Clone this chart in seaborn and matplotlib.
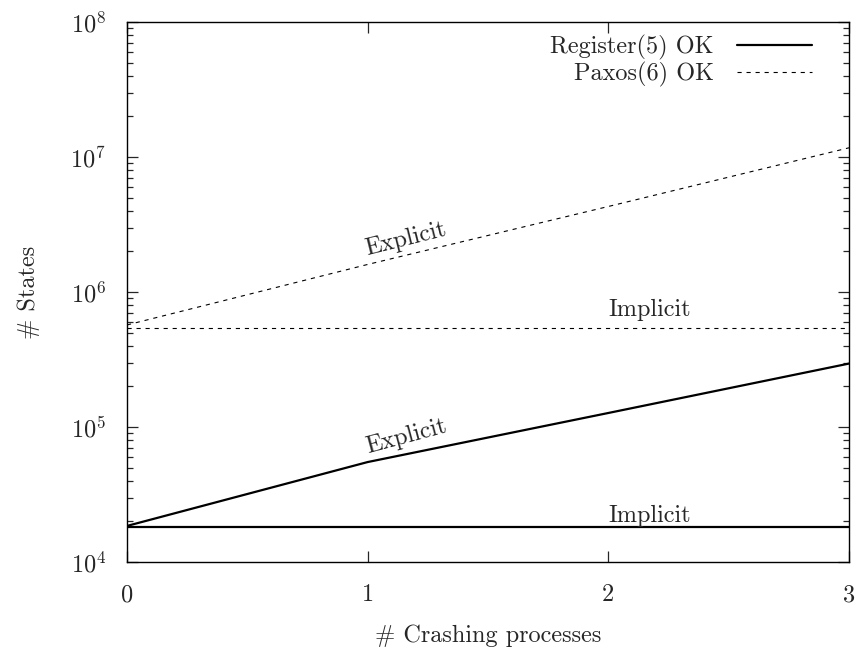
import numpy as np
import pandas as pd
import matplotlib
matplotlib.use("Agg")
import matplotlib.pyplot as plt
from matplotlib.lines import Line2D
import seaborn as sns

# ---- data ----
crashing = [0, 1, 2, 3]
register_explicit = [1.85e4, 5.5e4, 1.27e5, 2.95e5]
register_implicit = [1.82e4, 1.82e4, 1.82e4, 1.82e4]
paxos_explicit = [5.7e5, 1.6e6, 4.3e6, 1.17e7]
paxos_implicit = [5.4e5, 5.4e5, 5.4e5, 5.4e5]
legend_labels = ["Register(5) OK", "Paxos(6) OK"]
x_ticks = [0, 1, 2, 3]

sns.set_style("ticks")
plt.rcParams["font.family"] = ["cmr10", "DejaVu Serif"]
plt.rcParams["mathtext.fontset"] = "cm"
plt.rcParams["axes.formatter.use_mathtext"] = True
plt.rcParams["axes.unicode_minus"] = False
plt.rcParams["lines.scale_dashes"] = False

fig = plt.figure(figsize=(8.61, 6.53), dpi=100)
ax = fig.add_axes([127/861, 1-562/653, (849-127)/861, (562-22)/653])

df = pd.DataFrame({"x": crashing,
                   "re": register_explicit, "ri": register_implicit,
                   "pe": paxos_explicit, "pi": paxos_implicit})

solid_kw = dict(color="black", lw=1.6)
dash_kw = dict(color="black", lw=0.8, linestyle=(0, (3, 3.5)))
sns.lineplot(data=df, x="x", y="re", ax=ax, **solid_kw)
sns.lineplot(data=df, x="x", y="ri", ax=ax, **solid_kw)
sns.lineplot(data=df, x="x", y="pe", ax=ax, **dash_kw)
sns.lineplot(data=df, x="x", y="pi", ax=ax, **dash_kw)

ax.set_yscale("log")
ax.set_xlim(0, 3)
ax.set_ylim(1e4, 1e8)
ax.set_xticks(x_ticks)
ax.set_xticklabels([str(v) for v in x_ticks])

fs = 17.5
ax.tick_params(axis="both", which="major", direction="in", length=8, width=0.9,
               top=True, right=True, labelsize=fs)
ax.tick_params(axis="y", which="minor", direction="in", length=4, width=0.9,
               left=True, right=True)
ax.tick_params(axis="y", which="major", pad=15)
ax.tick_params(axis="x", which="major", pad=16)
for s in ax.spines.values():
    s.set_linewidth(1.0)
    s.set_color("black")

ax.set_xlabel("# Crashing processes", fontsize=fs, labelpad=13)
ax.set_ylabel("# States", fontsize=fs, labelpad=22)

ax.text(1.16, 8.5e4, "Explicit", fontsize=fs, rotation=15, ha="center", va="center")
ax.text(1.16, 2.45e6, "Explicit", fontsize=fs, rotation=14, ha="center", va="center")
ax.text(2.17, 7.4e5, "Implicit", fontsize=fs, ha="center", va="center")
ax.text(2.17, 2.2e4, "Implicit", fontsize=fs, ha="center", va="center")

handles = [Line2D([], [], **solid_kw), Line2D([], [], **dash_kw)]
ax.legend(handles, legend_labels, loc="upper right", frameon=False, markerfirst=False,
          fontsize=fs, handlelength=3.1, handletextpad=0.95, labelspacing=0.08,
          borderaxespad=0, borderpad=0, bbox_to_anchor=(0.9488, 0.976))

fig.savefig("out.png", dpi=100)
